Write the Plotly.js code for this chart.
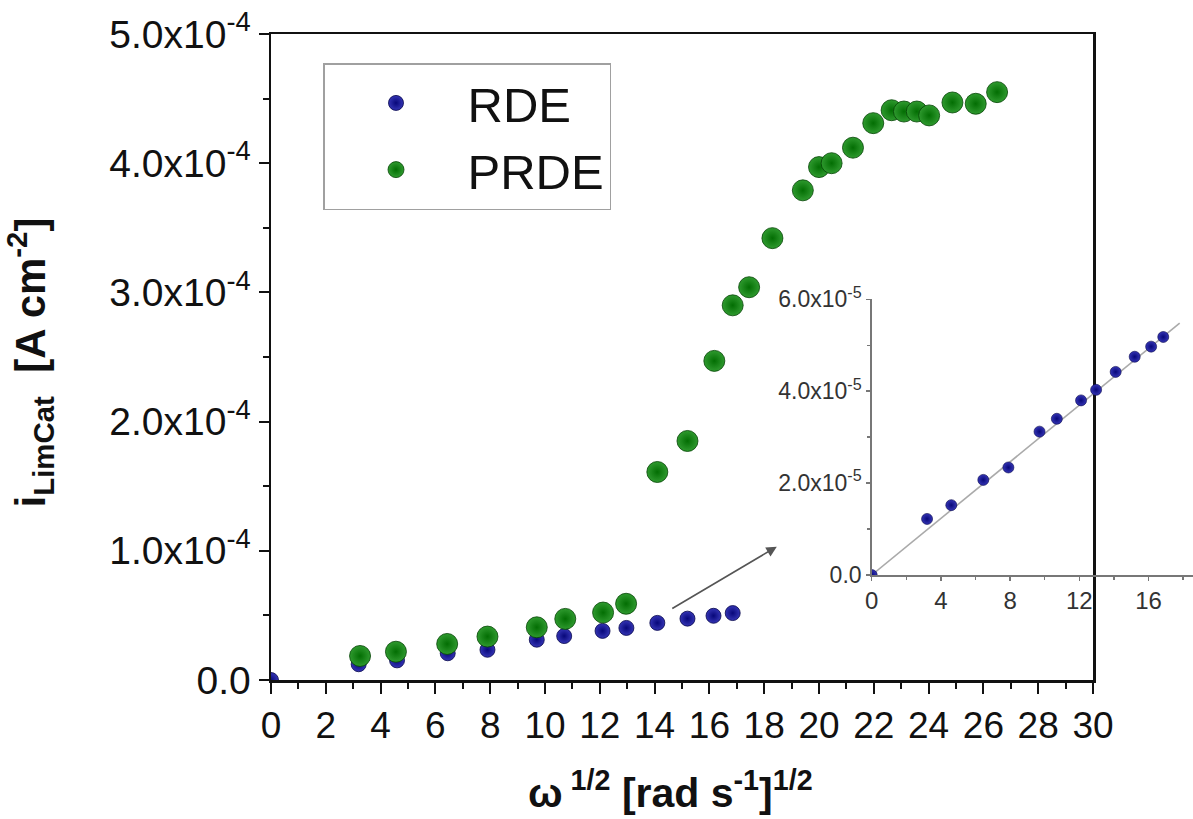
<!DOCTYPE html>
<html>
<head>
<meta charset="utf-8">
<script src="https://cdn.plot.ly/plotly-3.0.1.min.js"></script>
<style>html,body{margin:0;padding:0;background:#fff}#chart{width:1193px;height:819px}</style>
</head>
<body>
<div id="chart"></div>
<script>
// Data
const rdeX = [0, 3.2, 4.6, 6.45, 7.9, 9.7, 10.7, 12.1, 12.97, 14.1, 15.2, 16.15, 16.85];
const rdeY = [0, 1.22e-5, 1.52e-5, 2.07e-5, 2.34e-5, 3.12e-5, 3.40e-5, 3.80e-5, 4.03e-5, 4.42e-5, 4.75e-5, 4.97e-5, 5.18e-5];
const prdeX = [3.25, 4.56, 6.43, 7.9, 9.7, 10.74, 12.12, 12.96, 14.1, 15.2, 16.18, 16.85, 17.45, 18.3, 19.41, 20.0, 20.46, 21.24, 21.98, 22.65, 23.1, 23.57, 24.02, 24.87, 25.72, 26.5];
const prdeY = [1.86e-5, 2.19e-5, 2.79e-5, 3.36e-5, 4.08e-5, 4.73e-5, 5.22e-5, 5.9e-5, 1.61e-4, 1.85e-4, 2.47e-4, 2.9e-4, 3.04e-4, 3.42e-4, 3.79e-4, 3.97e-4, 4.0e-4, 4.12e-4, 4.31e-4, 4.41e-4, 4.4e-4, 4.4e-4, 4.37e-4, 4.47e-4, 4.46e-4, 4.55e-4];
const fitX = [0, 17.8];
const fitY = [0, 5.48e-5];
const mainYTicks = [0, 1e-4, 2e-4, 3e-4, 4e-4, 5e-4];
const mainYText = ['0.0', '1.0x10<sup>-4</sup>', '2.0x10<sup>-4</sup>', '3.0x10<sup>-4</sup>', '4.0x10<sup>-4</sup>', '5.0x10<sup>-4</sup>'];
const insetYTicks = [0, 2e-5, 4e-5, 6e-5];
const insetYText = ['0.0', '2.0x10<sup>-5</sup>', '4.0x10<sup>-5</sup>', '6.0x10<sup>-5</sup>'];
const arrowFrom = [14.59, 5.47e-5];
const arrowTo = [18.46, 1.032e-4];

const FONT = 'Liberation Sans, Arial, sans-serif';
const BOLDFONT = 'Liberation Sans, Arial, sans-serif';
const BLUE = '#08087a';
const GREEN = '#036e03';

const traces = [
  {x: rdeX, y: rdeY, type: 'scatter', mode: 'markers', name: 'RDE',
   marker: {size: 15, color: '#3434b4', gradient: {type: 'radial', color: BLUE}, line: {width: 0.8, color: '#05054a'}}},
  {x: prdeX, y: prdeY, type: 'scatter', mode: 'markers', name: 'PRDE',
   marker: {size: 21, color: '#2f9a2f', gradient: {type: 'radial', color: GREEN}, line: {width: 0.8, color: '#044404'}}},
  {x: fitX, y: fitY, xaxis: 'x2', yaxis: 'y2', type: 'scatter', mode: 'lines', showlegend: false,
   line: {color: '#aaaaaa', width: 1.6}},
  {x: rdeX, y: rdeY, xaxis: 'x2', yaxis: 'y2', type: 'scatter', mode: 'markers', showlegend: false,
   marker: {size: 11, color: '#3434b4', gradient: {type: 'radial', color: BLUE}, line: {width: 0.6, color: '#05054a'}}}
];

const layout = {
  width: 1193, height: 819,
  margin: {l: 271, r: 0, t: 34, b: 139},
  paper_bgcolor: '#ffffff', plot_bgcolor: 'rgba(0,0,0,0)',
  font: {family: FONT, color: '#111'},
  showlegend: true,
  legend: {x: 0.0564, y: 0.955, xanchor: 'left', yanchor: 'top',
           font: {family: FONT, size: 49, color: '#111'},
           bordercolor: '#a0a0a0', borderwidth: 1.5, bgcolor: '#ffffff',
           itemwidth: 133, entrywidth: 175, tracegroupgap: 0},
  xaxis: {domain: [0, 822/922], range: [0, 30], showline: true, linecolor: '#111', linewidth: 2.5,
          mirror: true, ticks: 'outside', ticklen: 11, tickwidth: 2, tickcolor: '#111', dtick: 2, tick0: 0,
          minor: {dtick: 1, ticks: 'outside', ticklen: 6, tickwidth: 2, tickcolor: '#111'},
          showgrid: false, zeroline: false, tickfont: {size: 37, family: FONT, color: '#111'}},
  yaxis: {domain: [0, 1], range: [0, 5e-4], showline: true, linecolor: '#111', linewidth: 2.5,
          mirror: true, ticks: 'outside', ticklen: 10, tickwidth: 2, tickcolor: '#111',
          tickvals: mainYTicks, ticktext: mainYText,
          minor: {dtick: 5e-5, tick0: 0, ticks: 'outside', ticklen: 6, tickwidth: 2, tickcolor: '#111'},
          showgrid: false, zeroline: false, tickfont: {size: 39, family: FONT, color: '#111'}},
  xaxis2: {domain: [(871.7-271)/922, 1], range: [0, 18.57], anchor: 'y2', showline: true, linecolor: '#777', linewidth: 1.5,
           ticks: 'outside', ticklen: 4, tickwidth: 1.5, tickcolor: '#777', dtick: 4, tick0: 0,
           minor: {dtick: 2, ticks: 'outside', ticklen: 3, tickwidth: 1.5, tickcolor: '#777'},
           showgrid: false, zeroline: false, tickfont: {size: 24, family: FONT, color: '#333'}},
  yaxis2: {domain: [(680-575)/646, (680-299.3)/646], range: [0, 6e-5], anchor: 'x2', showline: true, linecolor: '#777', linewidth: 1.5,
           ticks: 'outside', ticklen: 4, tickwidth: 1.5, tickcolor: '#777',
           tickvals: insetYTicks, ticktext: insetYText,
           minor: {dtick: 1e-5, tick0: 0, ticks: 'outside', ticklen: 3, tickwidth: 1.5, tickcolor: '#777'},
           showgrid: false, zeroline: false, tickfont: {size: 23, family: FONT, color: '#333'}},
  annotations: [
    {x: arrowTo[0], y: arrowTo[1], ax: arrowFrom[0], ay: arrowFrom[1], xref: 'x', yref: 'y', axref: 'x', ayref: 'y',
     text: '', showarrow: true, arrowhead: 2, arrowsize: 1.3, arrowwidth: 1.6, arrowcolor: '#555'},
    {text: '<b>ω<sup> 1/2</sup> [rad s<sup>-1</sup>]<sup>1/2</sup></b>', xref: 'paper', yref: 'paper',
     x: (670-271)/922, y: -0.17, xanchor: 'center', yanchor: 'middle', showarrow: false,
     font: {family: BOLDFONT, size: 41, color: '#111'}},
    {text: '<b>i<sub>LimCat</sub>  [A cm<sup>-2</sup>]</b>', xref: 'paper', yref: 'paper',
     x: -0.262, y: (680-362)/646, xanchor: 'center', yanchor: 'middle', showarrow: false, textangle: -90,
     font: {family: BOLDFONT, size: 42, color: '#111'}}
  ]
};

Plotly.newPlot('chart', traces, layout, {displayModeBar: false, staticPlot: true});
</script>
</body>
</html>
